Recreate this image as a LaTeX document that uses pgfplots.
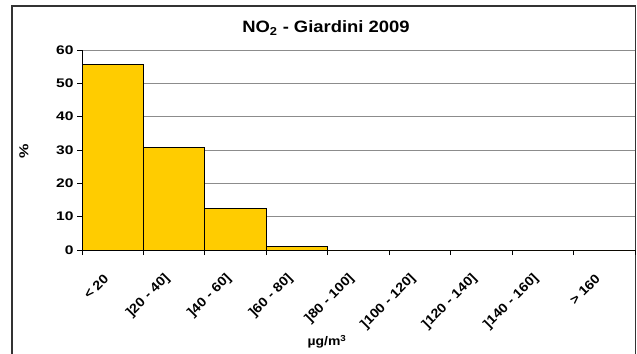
\documentclass[border=0pt]{standalone}
\usepackage{pgfplots}
\pgfplotsset{compat=1.18}
\usepackage{fontspec}
\setmainfont{Liberation Sans}
\newfontfamily\widefont[FakeStretch=1.12]{Liberation Sans}
\newfontfamily\wwidefont[FakeStretch=1.25]{Liberation Sans}
\definecolor{barfill}{RGB}{255,204,0}

\begin{document}
\begin{tikzpicture}[x=1bp,y=1bp]
\useasboundingbox (0,0) rectangle (637,353);
\fill[white] (0,0) rectangle (637,353);
\draw[line width=1.2bp, black!80] (12,-10) rectangle (635.5,347);
% title and axis titles
\node[font=\widefont\bfseries\fontsize{16.5}{19}\selectfont] at (326,325) {NO\textsubscript{2} - Giardini 2009};
\node[font=\wwidefont\bfseries\fontsize{13}{15}\selectfont, rotate=90] at (24,202) {\%};
\node[font=\widefont\bfseries\fontsize{12.5}{14}\selectfont] at (327,11) {µg/m\textsuperscript{3}};
\begin{axis}[
    at={(82bp,103bp)}, anchor=south west,
    scale only axis,
    width=553bp, height=200bp,
    xmin=0, xmax=9,
    ymin=0, ymax=60,
    axis lines*=left,
    axis line style={line width=1bp, black},
    ytick={0,10,...,60},
    ymajorgrids,
    grid style={black!45, line width=0.8bp},
    tick align=outside,
    major tick length=5bp,
    minor tick length=5bp,
    tick style={black, line width=0.8bp},
    xtick={0.5,1.5,...,8.5},
    xticklabels={< 20, ]20 - 40], ]40 - 60], ]60 - 80], ]80 - 100], ]100 - 120], ]120 - 140], ]140 - 160], > 160},
    major x tick style={draw=none},
    minor xtick={0,1,...,9},
    x tick label style={xshift=-4bp, yshift=-19bp, rotate=45, anchor=east, font=\widefont\bfseries\fontsize{13}{15}\selectfont},
    y tick label style={font=\wwidefont\bfseries\fontsize{12.5}{14}\selectfont},
    /pgf/number format/assume math mode=true,
    ybar, bar width=1,
]
\addplot[ybar, fill=barfill, draw=black, line width=0.8bp] coordinates {
    (0.5,55.7) (1.5,30.7) (2.5,12.6) (3.5,1.0) (4.5,0) (5.5,0) (6.5,0) (7.5,0) (8.5,0)
};
\end{axis}
\end{tikzpicture}
\end{document}
